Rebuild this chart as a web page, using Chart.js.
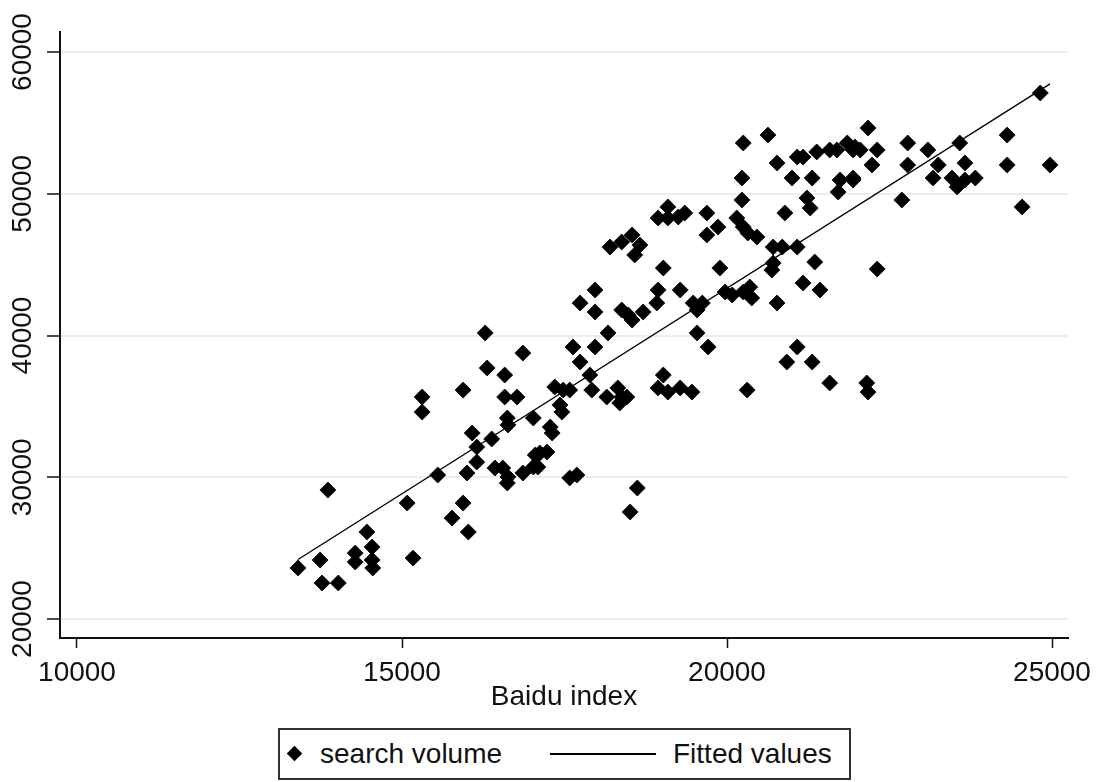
<!DOCTYPE html>
<html>
<head>
<meta charset="utf-8">
<script src="https://cdn.jsdelivr.net/npm/chart.js@4.4.1/dist/chart.umd.min.js"></script>
<style>
  html, body { margin: 0; padding: 0; background: #fff; }
  #wrap { position: relative; width: 1099px; height: 782px; overflow: hidden; background: #fff; }
  #c { position: absolute; left: 0; top: 0; }
  #legend { position: absolute; left: 278px; top: 728px; width: 573px; height: 52px; box-sizing: border-box;
            border: 2px solid #333; background: #fff; font-family: "Liberation Sans", Arial, sans-serif; font-size: 28px; color: #111; }
  #legend .it { position: absolute; top: 0; height: 48px; line-height: 48px; white-space: nowrap; }
  #legend .dia { position: absolute; width: 11px; height: 11px; background: #000; transform: rotate(45deg); }
  #legend .ln { position: absolute; height: 2px; background: #000; }
</style>
</head>
<body>
<div id="wrap">
  <canvas id="c" width="1099" height="782"></canvas>
  <div id="legend"></div>
</div>
<script>
// ---- data ----
const baiduIndex = [
  13400,13740,13770,14020,13860,14280,14280,14460,14540,14540,14550,15080,15170,15310,15310,15550,15770,15940,15940,16020,
  16000,16080,16150,16150,16280,16310,16380,16430,16550,16630,16620,16580,16580,16770,16620,16630,16860,16860,17020,17050,
  17120,17230,17020,17090,17280,17310,17350,17480,17580,17430,17460,17580,17690,17630,17970,17740,17890,17920,17740,17970,
  17970,18170,18150,18320,18380,18460,18350,18510,18620,18200,18380,18540,18660,18580,18380,18480,18540,18710,18920,18940,
  19020,19020,18940,19090,19280,19460,18940,19090,19250,19350,19090,19690,19860,19690,20150,20250,20320,20460,20250,20630,
  20770,20230,20230,21000,21310,21080,21170,21380,21580,21690,21850,21940,21740,21940,21710,21230,21280,20890,20710,20850,
  21080,20710,20690,21350,21170,21430,20770,19890,19970,20080,20250,20350,20380,19480,19540,19620,19280,19540,19710,21080,
  20920,21310,21580,20310,24820,22170,21970,22050,22310,22230,22780,23090,23580,24310,22780,23250,23660,24310,24970,21940,
  23170,23460,23540,23660,23820,22690,24540,22310,22150,22170
];
const searchVolume = [
  23600,24160,22540,22540,29100,24650,24020,26140,25080,24160,23600,28180,24300,35660,34600,30160,27120,36150,28180,26140,
  30300,33120,32130,31070,40180,37710,32700,30650,30650,30020,29590,37210,35660,35660,34180,33690,38760,30300,34180,31570,
  31710,31780,30720,30720,33540,33120,36370,36150,36150,35100,34600,29950,30160,39190,39190,38130,37210,36150,42290,43210,
  41660,40180,35660,36300,35660,35660,35240,27550,29240,46240,46600,47090,46380,45680,41800,41450,41090,41660,42290,43210,
  44760,37210,36300,36010,36300,36010,48290,48290,48360,48640,49070,48640,47650,47090,48290,47650,47230,46950,53580,54140,
  52170,51110,49560,51110,51110,52590,52590,52950,53090,53090,53580,53090,50970,50970,50120,49700,48990,48640,46240,46240,
  46240,45110,44620,45180,43700,43210,42290,44760,43070,42860,43070,43420,42650,42290,41800,42290,43210,40180,39190,39190,
  38130,38130,36650,36150,57110,54640,53300,53090,53090,52030,53580,53090,53580,54140,52030,52030,52170,52030,52030,51110,
  51110,51110,50480,50970,51110,49560,49070,44690,36650,36010
];
const fittedX = [13400, 24970];
const fittedY = [24200, 57750];
const xTicks = [10000, 15000, 20000, 25000];
const yTicks = [20000, 30000, 40000, 50000, 60000];
const seriesLabels = ["search volume", "Fitted values"];
const xTitle = "Baidu index";

const FONT = '"Liberation Sans", Arial, sans-serif';

const yLabelPlugin = {
  id: 'yRotLabels',
  afterDraw(chart) {
    const s = chart.scales.y, ctx = chart.ctx;
    ctx.save();
    ctx.font = '28px ' + FONT;
    ctx.fillStyle = '#111';
    ctx.textAlign = 'center';
    ctx.textBaseline = 'middle';
    s.ticks.forEach(t => {
      ctx.save();
      ctx.translate(23, s.getPixelForValue(t.value));
      ctx.rotate(-Math.PI / 2);
      ctx.fillText(String(t.value), 0, 0);
      ctx.restore();
    });
    ctx.restore();
  }
};

const chart = new Chart(document.getElementById('c'), {
  data: {
    datasets: [
      {
        type: 'scatter',
        label: seriesLabels[0],
        data: baiduIndex.map((x, i) => ({ x: x, y: searchVolume[i] })),
        pointStyle: 'rectRot',
        pointRadius: 8,
        pointBackgroundColor: '#000',
        pointBorderColor: '#000',
        pointBorderWidth: 0.8,
        order: 2
      },
      {
        type: 'line',
        label: seriesLabels[1],
        data: fittedX.map((x, i) => ({ x: x, y: fittedY[i] })),
        borderColor: '#000',
        borderWidth: 1.3,
        pointRadius: 0,
        fill: false,
        order: 1
      }
    ]
  },
  options: {
    responsive: false,
    animation: false,
    devicePixelRatio: 1,
    layout: { padding: { left: 0, right: 31, top: 32, bottom: 62 } },
    plugins: { legend: { display: false }, tooltip: { enabled: false } },
    scales: {
      x: {
        type: 'linear',
        position: 'bottom',
        min: 9738.5,
        max: 25246,
        afterBuildTicks: s => { s.ticks = xTicks.map(v => ({ value: v })); },
        afterFit: s => { s.height = 82; s.paddingLeft = 0; s.paddingRight = 0; },
        ticks: {
          callback: v => String(v),
          font: { family: FONT, size: 28 },
          color: '#111',
          padding: 8,
          maxRotation: 0,
          autoSkip: false
        },
        grid: { display: true, drawOnChartArea: false, drawTicks: true, tickLength: 10, tickColor: '#111', tickWidth: 1.5 },
        border: { display: true, color: '#111', width: 2 },
        title: { display: true, text: xTitle, font: { family: FONT, size: 28 }, color: '#111', padding: { top: 0, bottom: 6 } }
      },
      y: {
        type: 'linear',
        position: 'left',
        min: 18660,
        max: 61411,
        afterBuildTicks: s => { s.ticks = yTicks.map(v => ({ value: v })); },
        afterFit: s => { s.width = 60; s.paddingTop = 0; s.paddingBottom = 0; },
        ticks: { display: false },
        grid: { display: true, drawOnChartArea: true, color: '#e6eff2', lineWidth: 2, drawTicks: true, tickLength: 13, tickColor: '#111', tickWidth: 1.5 },
        border: { display: true, color: '#111', width: 2 }
      }
    }
  },
  plugins: [yLabelPlugin]
});

// legend built from the dataset labels
const lg = document.getElementById('legend');
const ds = chart.data.datasets;
lg.innerHTML =
  '<div class="dia" style="left:9px;top:18px"></div>' +
  '<div class="it" style="left:40px">' + ds[0].label + '</div>' +
  '<div class="ln" style="left:270px;top:23px;width:106px"></div>' +
  '<div class="it" style="left:393px">' + ds[1].label + '</div>';
</script>
</body>
</html>
